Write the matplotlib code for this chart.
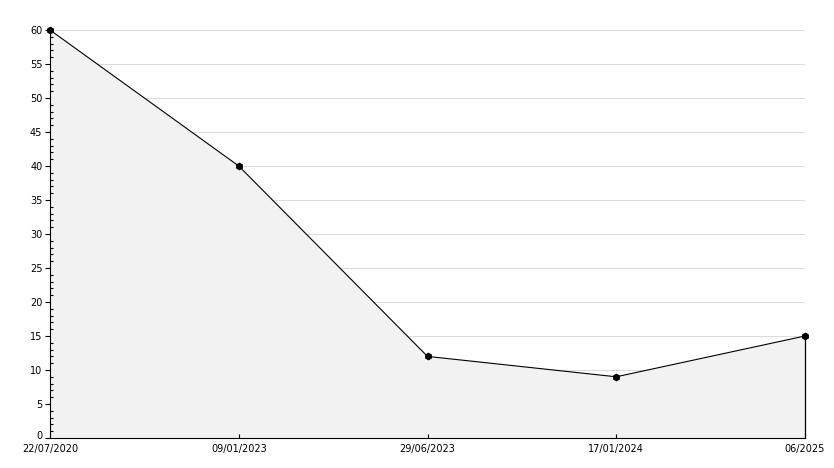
import matplotlib
matplotlib.use("Agg")
import matplotlib.pyplot as plt
from matplotlib.ticker import MultipleLocator
from matplotlib.transforms import ScaledTranslation

labels = ["22/07/2020", "09/01/2023", "29/06/2023", "17/01/2024", "06/2025"]
values = [60, 40, 12, 9, 15]

fig = plt.figure(figsize=(8.34, 4.68), dpi=100)
ax = fig.add_axes([50/834, 1-438/468, (805-50)/834, (438-30)/468])
ax.set_axisbelow(False)
x = list(range(len(values)))

for v in range(5, 61, 5):
    ax.axhline(v, color="#dddddd", lw=0.8, zorder=1)

ax.fill_between(x, 0, values, color="#f2f2f2", zorder=1.5, lw=0)
ax.plot(x, values, color="black", lw=0.8, zorder=3, clip_on=False,
        marker="h", markersize=4.5, markerfacecolor="black", markeredgecolor="black")
ax.vlines(x[-1], 0, values[-1], color="black", lw=0.9, zorder=3, clip_on=False)

ax.set_xlim(0, len(values)-1)
ax.set_ylim(0, 60)
ax.set_xticks(x)
ax.set_xticklabels(labels)
ax.yaxis.set_major_locator(MultipleLocator(5))
ax.yaxis.set_minor_locator(MultipleLocator(1))

for s in ["top", "right"]:
    ax.spines[s].set_visible(False)
for s in ["left", "bottom"]:
    ax.spines[s].set_linewidth(0.8)
    ax.spines[s].set_zorder(4)

ax.tick_params(axis="x", direction="in", length=3, width=0.8, labelsize=7, pad=4)
ax.tick_params(axis="y", which="major", direction="out", length=3.5, width=0.8, labelsize=7, pad=2)
ax.tick_params(axis="y", which="minor", direction="in", length=2.2, width=0.8)

fig.canvas.draw()
for lab in ax.get_yticklabels():
    if lab.get_text() == "0":
        lab.set_transform(lab.get_transform() + ScaledTranslation(0, 3/100, fig.dpi_scale_trans))

fig.savefig("out.png", dpi=100, facecolor="white")
